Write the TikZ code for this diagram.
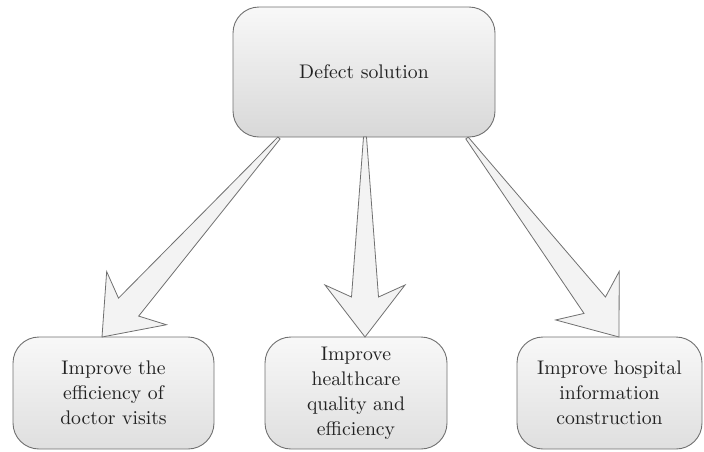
\documentclass[tikz,border=0pt]{standalone}
\usepackage{fontspec}
\setmainfont{lmroman10-regular}[Extension=.otf]
\usetikzlibrary{calc}
\definecolor{edgegray}{HTML}{707070}
\definecolor{arrowfill}{HTML}{F3F3F3}
\definecolor{boxtop}{HTML}{F8F8F8}
\definecolor{boxbot}{HTML}{D8D8D8}
\definecolor{boxbotb}{HTML}{DFDFDF}
\definecolor{textgray}{HTML}{222222}
\tikzset{
  topbox/.style={draw=edgegray, line width=0.9pt, rounded corners=26pt,
    top color=boxtop, bottom color=boxbot, inner sep=0pt, outer sep=0pt,
    align=center, text=textgray, font=\fontsize{19.7}{25}\selectfont},
  lowbox/.style={draw=edgegray, line width=0.9pt, rounded corners=26pt,
    top color=boxtop, bottom color=boxbotb, inner sep=0pt, outer sep=0pt,
    minimum height=112pt, align=center, text=textgray, font=\fontsize{19.7}{25}\selectfont},
  fatarrow/.style={draw=edgegray, fill=arrowfill, line width=0.8pt, line join=miter}
}
\newcommand{\fatarrowdraw}[2]{%
  \draw[fatarrow]
    ($(#1)!1.5pt!90:(#2)$) --
    ($(#2)!40pt!(#1)!13.5pt!-90:(#1)$) --
    ($(#2)!52pt!(#1)!40pt!-90:(#1)$) --
    (#2) --
    ($(#2)!52pt!(#1)!40pt!90:(#1)$) --
    ($(#2)!40pt!(#1)!13.5pt!90:(#1)$) --
    ($(#1)!1.5pt!-90:(#2)$) -- cycle;}
\begin{document}
\begin{tikzpicture}[x=1pt,y=-1pt]
\useasboundingbox (0,0) rectangle (704,451);
\node[topbox, minimum width=262pt, minimum height=130pt] (top) at (364,72) {Defect solution};
\node[lowbox, minimum width=201pt] (b1) at (113.5,393) {Improve the\\efficiency of\\doctor visits};
\node[lowbox, minimum width=182pt] (b2) at (356,393) {Improve\\healthcare\\quality and\\efficiency};
\node[lowbox, minimum width=185pt] (b3) at (609.5,393) {Improve hospital\\information\\construction};
\coordinate (t1) at ([xshift=-85pt,yshift=-1pt]top.south);
\coordinate (t2) at ([xshift=1pt]top.south);
\coordinate (t3) at ([xshift=103pt,yshift=-1pt]top.south);
\coordinate (h1) at ([xshift=-11.5pt]b1.north);
\coordinate (h2) at ([xshift=9pt]b2.north);
\coordinate (h3) at ([xshift=9.5pt]b3.north);
\fatarrowdraw{t1}{h1}
\fatarrowdraw{t2}{h2}
\fatarrowdraw{t3}{h3}
\end{tikzpicture}
\end{document}
